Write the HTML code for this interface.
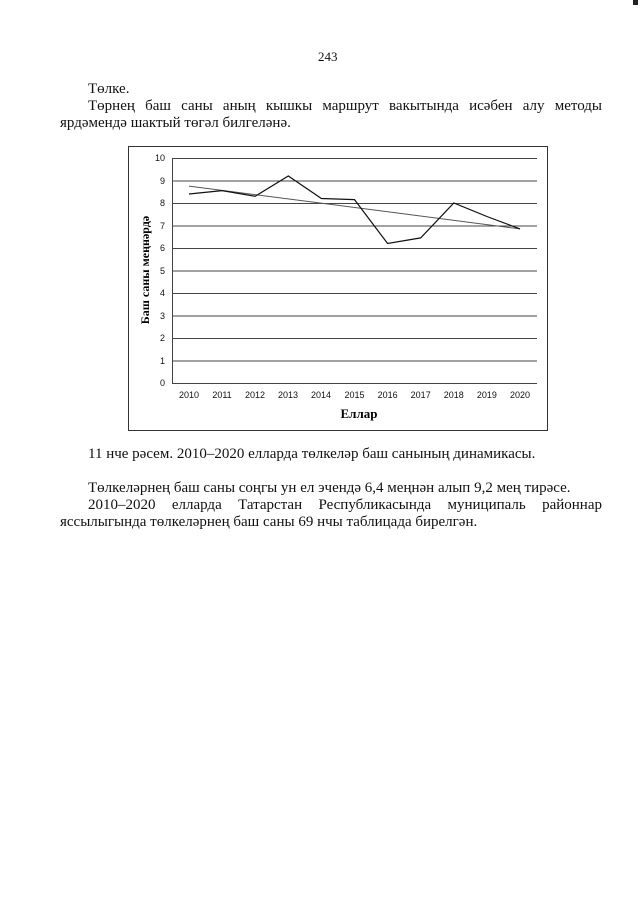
<!DOCTYPE html>
<html><head><meta charset="utf-8"><style>
body{margin:0;width:640px;height:905px;background:#fff;position:relative;font-family:"Liberation Serif",serif;color:#111;overflow:hidden}
.t{position:absolute;font-size:15px;white-space:nowrap;line-height:16px}
.j{position:absolute;font-size:15px;line-height:16px;text-align:justify;text-align-last:justify}
</style></head><body>
<div style="position:absolute;left:633px;top:0;width:5px;height:5px;background:#222"></div>
<div class="t" style="left:318px;top:49px;font-size:13px">243</div>
<div class="t" style="left:88px;top:81px">Төлке.</div>
<div class="j" style="left:88px;top:98px;width:514px">Төрнең баш саны аның кышкы маршрут вакытында исәбен алу методы</div>
<div class="t" style="left:60px;top:115px">ярдәмендә шактый төгәл билгеләнә.</div>

<svg style="position:absolute;left:0;top:0" width="640" height="905">
<rect x="128.5" y="146.5" width="419" height="284" fill="none" stroke="#333" stroke-width="1"/>
<g stroke="#444" stroke-width="1">
<line x1="172" y1="158.5" x2="537" y2="158.5"/>
<line x1="172" y1="181" x2="537" y2="181"/>
<line x1="172" y1="203.5" x2="537" y2="203.5"/>
<line x1="172" y1="226" x2="537" y2="226"/>
<line x1="172" y1="248.5" x2="537" y2="248.5"/>
<line x1="172" y1="271" x2="537" y2="271"/>
<line x1="172" y1="293.5" x2="537" y2="293.5"/>
<line x1="172" y1="316" x2="537" y2="316"/>
<line x1="172" y1="338.5" x2="537" y2="338.5"/>
<line x1="172" y1="361" x2="537" y2="361"/>
<line x1="172" y1="383.5" x2="537" y2="383.5"/>
<line x1="172.5" y1="158" x2="172.5" y2="384"/>
</g>
<g font-family="Liberation Sans,sans-serif" font-size="9" text-anchor="end" fill="#111">
<text x="165" y="161">10</text><text x="165" y="184">9</text><text x="165" y="206">8</text><text x="165" y="229">7</text><text x="165" y="251">6</text><text x="165" y="274">5</text><text x="165" y="296">4</text><text x="165" y="319">3</text><text x="165" y="341">2</text><text x="165" y="364">1</text><text x="165" y="386">0</text>
</g>
<g font-family="Liberation Sans,sans-serif" font-size="9" text-anchor="middle" fill="#111">
<text x="189" y="398">2010</text><text x="222" y="398">2011</text><text x="255" y="398">2012</text><text x="288" y="398">2013</text><text x="321" y="398">2014</text><text x="354.5" y="398">2015</text><text x="387.6" y="398">2016</text><text x="420.7" y="398">2017</text><text x="453.8" y="398">2018</text><text x="486.9" y="398">2019</text><text x="520" y="398">2020</text>
</g>
<text x="359" y="418" font-size="13" font-weight="bold" text-anchor="middle" font-family="Liberation Serif,serif">Еллар</text>
<text transform="translate(149,270) rotate(-90)" font-size="12" font-weight="bold" text-anchor="middle" font-family="Liberation Serif,serif">Баш саны меңнәрдә</text>
<line x1="189" y1="186.1" x2="520" y2="228.9" stroke="#555" stroke-width="1"/>
<polyline fill="none" stroke="#111" stroke-width="1.2" points="189,194 222.1,190.6 255.2,196.3 288.3,176 321.4,198.5 354.5,199.6 387.6,243.5 420.7,237.9 453.8,203 486.9,216.5 520,228.9"/>
</svg>

<div class="t" style="left:88px;top:446px">11 нче рәсем. 2010–2020 елларда төлкеләр баш санының динамикасы.</div>
<div class="t" style="left:88px;top:480px">Төлкеләрнең баш саны соңгы ун ел эчендә 6,4 меңнән алып 9,2 мең тирәсе.</div>
<div class="j" style="left:88px;top:497px;width:514px">2010–2020 елларда Татарстан Республикасында муниципаль районнар</div>
<div class="t" style="left:60px;top:514px">яссылыгында төлкеләрнең баш саны 69 нчы таблицада бирелгән.</div>
</body></html>
